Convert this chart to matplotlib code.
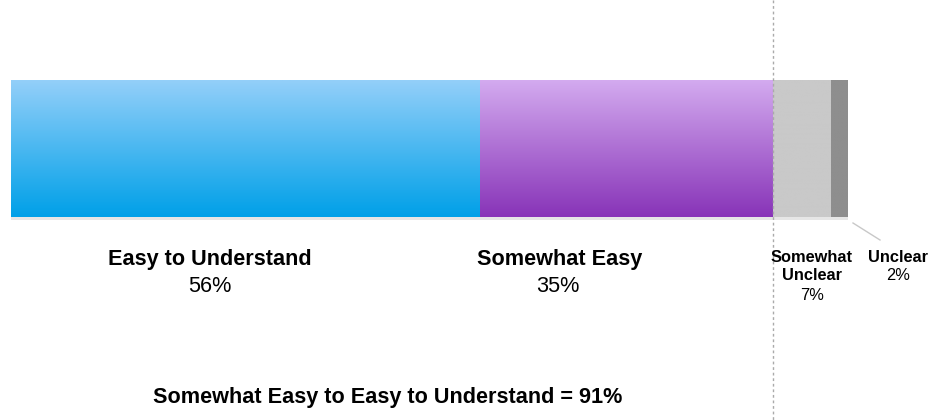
import numpy as np
import matplotlib.pyplot as plt
from matplotlib.colors import to_rgb

plt.rcParams['font.family'] = ['Liberation Sans', 'DejaVu Sans']

categories = ['Easy to Understand', 'Somewhat Easy', 'Somewhat\nUnclear', 'Unclear']
shares = [56, 35, 7, 2]
pct_labels = ['56%', '35%', '7%', '2%']
top_colors = ['#93cff9', '#d3aaef', '#c9c9c9', '#8e8e8e']
bottom_colors = ['#00a0e8', '#8834b8', '#c9c9c9', '#8e8e8e']
summary = 'Somewhat Easy to Easy to Understand = 91%'

W, H = 932, 420
fig = plt.figure(figsize=(W / 100, H / 100), dpi=100)
# x in percent, y in pixel rows from the top
ax = fig.add_axes([11 / W, 0, 837 / W, 1])
ax.axis('off')


def px(x):
    return (x - 11) / 837 * 100


bar_top, bar_bot = 80, 217

# faint shadow under the bar
ax.fill_between([0, 100], bar_bot, bar_bot + 3, color='#e6e6e6', lw=0)

left = 0
for share, c0, c1 in zip(shares, top_colors, bottom_colors):
    a = np.array(to_rgb(c0))
    b = np.array(to_rgb(c1))
    t = np.linspace(0, 1, 100)[:, None]
    grad = (a * (1 - t) + b * t)[:, None, :]
    ax.imshow(grad, extent=[left, left + share, bar_bot, bar_top],
              aspect='auto', interpolation='bilinear', zorder=2)
    left += share
ax.set_xlim(0, 100)
ax.set_ylim(H, 0)

# dotted divider at the 91% mark
cum = shares[0] + shares[1]
ax.plot([cum, cum], [0, H], color='#aaaaaa', lw=1, ls=(0, (2, 2)), zorder=3,
        clip_on=False)

# leader line for the small segment
ax.plot([px(853), px(880)], [223, 240], color='#c8c8c8', lw=1, clip_on=False)

big = dict(ha='center', va='center', fontsize=15.6, clip_on=False)
ax.text(px(210), 260, categories[0], fontweight='bold', **big)
ax.text(px(210), 287, pct_labels[0], **big)
ax.text(px(560), 260, categories[1], fontweight='bold', **big)
ax.text(px(558), 287, pct_labels[1], **big)

small = dict(ha='center', va='center', fontsize=11.8, clip_on=False)
line1, line2 = categories[2].split('\n')
ax.text(px(812), 257, line1, fontweight='bold', **small)
ax.text(px(812), 276, line2, fontweight='bold', **small)
ax.text(px(812), 295, pct_labels[2], **small)
ax.text(px(898), 257, categories[3], fontweight='bold', **small)
ax.text(px(898), 276, pct_labels[3], **small)

ax.text(px(388), 397, summary, fontweight='bold', ha='center', va='center',
        fontsize=15.6, clip_on=False)

fig.savefig('out.png', dpi=100)
